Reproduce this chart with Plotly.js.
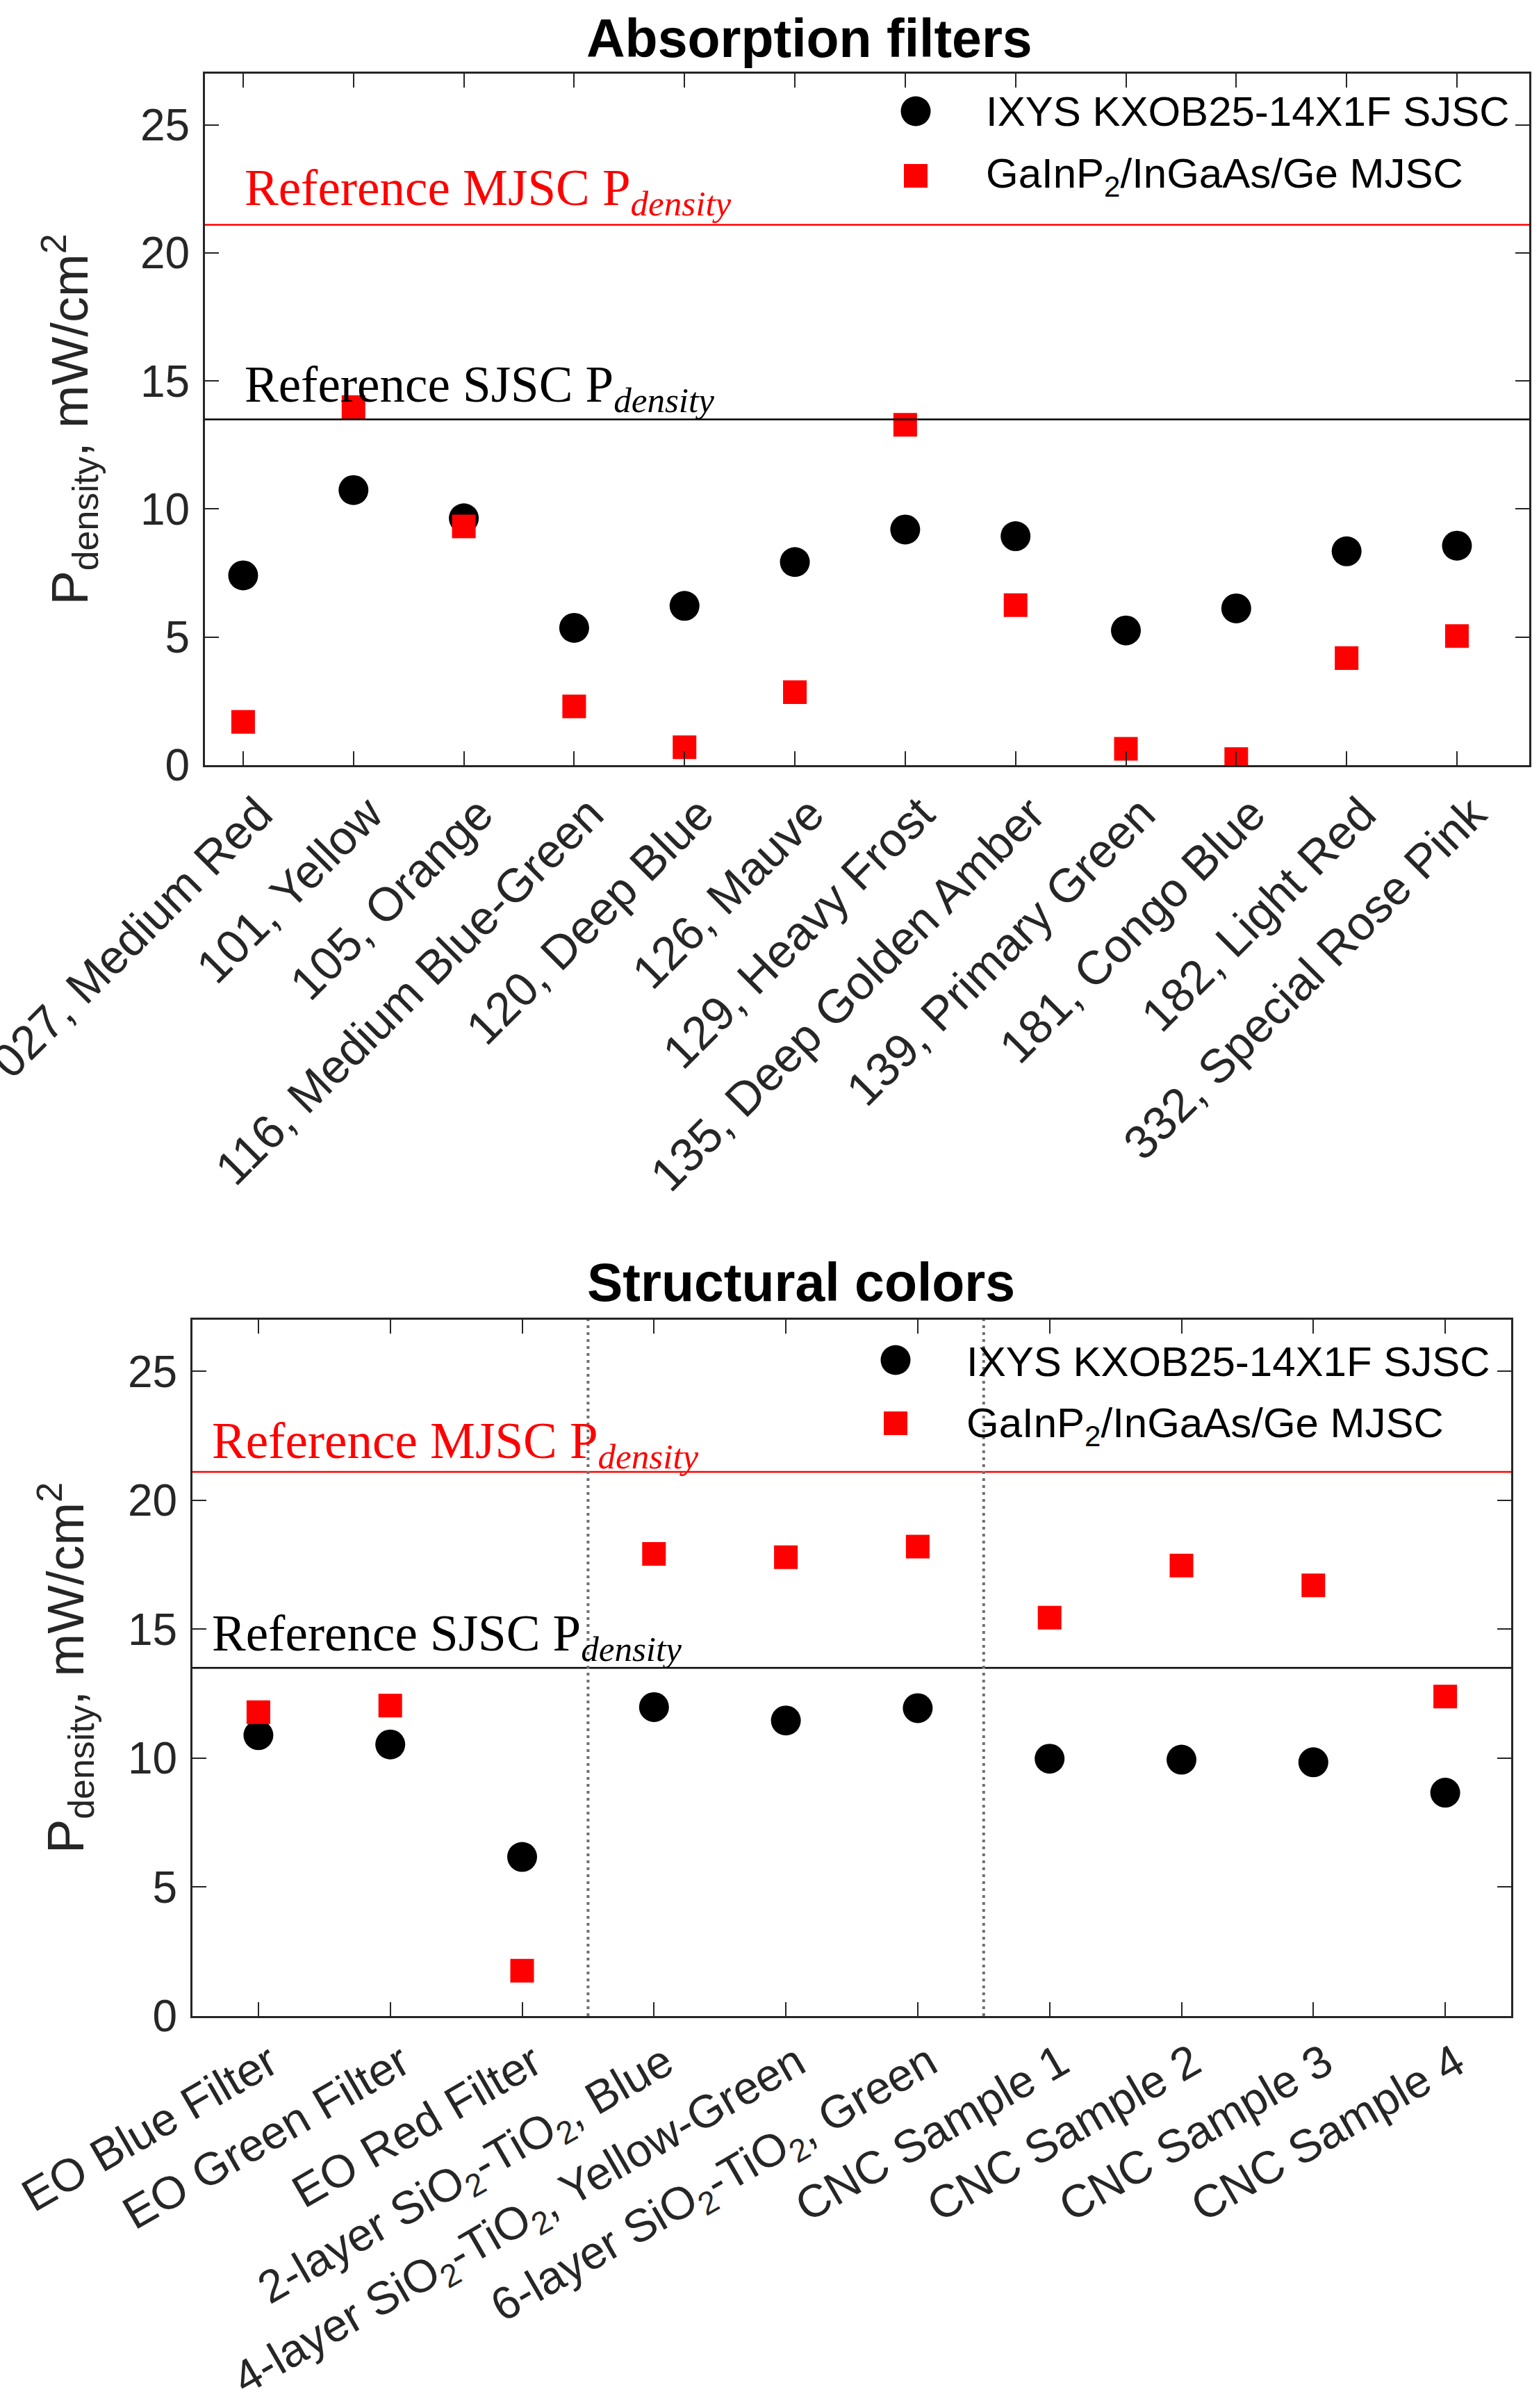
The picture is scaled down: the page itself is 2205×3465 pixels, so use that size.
<!DOCTYPE html>
<html>
<head>
<meta charset="utf-8">
<script src="https://cdn.plot.ly/plotly-3.0.1.min.js"></script>
<style>
  body { margin: 0; background: #fff; }
  #myDiv { width: 2205px; height: 3465px; }
</style>
</head>
<body>
<div id="myDiv"></div>
<script>
// figure size
const W = 2205, H = 3465;

// absorption filters (top panel)
const absLabels = ['027, Medium Red', '101, Yellow', '105, Orange', '116, Medium Blue-Green',
  '120, Deep Blue', '126, Mauve', '129, Heavy Frost', '135, Deep Golden Amber',
  '139, Primary Green', '181, Congo Blue', '182, Light Red', '332, Special Rose Pink'];
const absSJSC = [7.41, 10.74, 9.64, 5.36, 6.22, 7.93, 9.20, 8.94, 5.26, 6.12, 8.35, 8.57];
const absMJSC = [1.69, 13.98, 9.32, 2.29, 0.70, 2.85, 13.29, 6.25, 0.64, 0.24, 4.18, 5.04];

// structural colors (bottom panel)
const strLabels = ['EO Blue Filter', 'EO Green Filter', 'EO Red Filter',
  '2-layer SiO<sub>2</sub>-TiO<sub>2</sub>, Blue',
  '4-layer SiO<sub>2</sub>-TiO<sub>2</sub>, Yellow-Green',
  '6-layer SiO<sub>2</sub>-TiO<sub>2</sub>, Green',
  'CNC Sample 1', 'CNC Sample 2', 'CNC Sample 3', 'CNC Sample 4'];
const strSJSC = [10.89, 10.53, 6.17, 11.98, 11.46, 11.94, 9.98, 9.94, 9.84, 8.66];
const strMJSC = [11.78, 12.04, 1.76, 17.92, 17.79, 18.20, 15.45, 17.47, 16.70, 12.39];
const strDividers = [3.5, 6.5];

// reference power densities
const refMJSC = 21.1;
const refSJSC = 13.5;

const seriesNames = ['IXYS KXOB25-14X1F SJSC', 'GaInP<sub>2</sub>/InGaAs/Ge MJSC'];
const yTicks = [0, 5, 10, 15, 20, 25];

const absX = absLabels.map((_, i) => i + 1);
const strX = strLabels.map((_, i) => i + 1);

// pixel helpers -> paper coords
const fx = px => px / W;
const fy = py => 1 - py / H;

const axCol = '#262626';
const sans = 'Liberation Sans, Arial, sans-serif';
const serif = 'Liberation Serif, Times New Roman, serif';

function pts(x, y, xa, ya, sym, col, size) {
  return {
    x: x, y: y, xaxis: xa, yaxis: ya,
    type: 'scatter', mode: 'markers',
    marker: { symbol: sym, color: col, size: size },
    hoverinfo: 'x+y'
  };
}

var data = [
  pts(absX, absSJSC, 'x', 'y', 'circle', '#000000', 43),
  pts(absX, absMJSC, 'x', 'y', 'square', '#ff0000', 34),
  pts(strX, strSJSC, 'x2', 'y2', 'circle', '#000000', 43),
  pts(strX, strMJSC, 'x2', 'y2', 'square', '#ff0000', 34)
];

function xAxis(dom, anchor, range, vals, text, angle, shift, fsize) {
  return {
    domain: dom, anchor: anchor, range: range,
    tickmode: 'array', tickvals: vals, ticktext: text, tickangle: angle,
    ticklabelshift: shift, ticklabeloverflow: 'allow',
    ticks: 'inside', ticklen: 20, tickwidth: 2, tickcolor: axCol,
    showline: true, mirror: 'ticks', linecolor: axCol, linewidth: 3,
    showgrid: false, zeroline: false, automargin: false,
    tickfont: { family: sans, size: fsize, color: axCol }
  };
}

function yAxis(dom, anchor, standoff) {
  return {
    domain: dom, anchor: anchor, range: [0, 27],
    tickmode: 'array', tickvals: yTicks,
    ticks: 'inside', ticklen: 20, tickwidth: 2, tickcolor: axCol,
    ticklabelstandoff: 6,
    showline: true, mirror: 'ticks', linecolor: axCol, linewidth: 3,
    showgrid: false, zeroline: false, automargin: false,
    tickfont: { family: sans, size: 64, color: axCol },
    title: { text: 'P<sub>density</sub>, mW/cm<sup>2</sup>', standoff: standoff,
             font: { family: sans, size: 74, color: axCol } }
  };
}

// horizontal reference lines + dotted dividers
var shapes = [];
[['x', 'y'], ['x2', 'y2']].forEach(function (ax) {
  shapes.push({ type: 'line', xref: ax[0] + ' domain', yref: ax[1], x0: 0, x1: 1, y0: refMJSC, y1: refMJSC,
                line: { color: '#ff0000', width: 2.5 } });
  shapes.push({ type: 'line', xref: ax[0] + ' domain', yref: ax[1], x0: 0, x1: 1, y0: refSJSC, y1: refSJSC,
                line: { color: '#000000', width: 2.5 } });
});
strDividers.forEach(function (d) {
  shapes.push({ type: 'line', xref: 'x2', yref: 'y2 domain', x0: d, x1: d, y0: 0, y1: 1,
                line: { color: '#707070', width: 4, dash: '4px,6px' } });
});

// hand-made legend keys (plotly caps legend marker size)
function legendKeys(cx, cyCircle, cySquare) {
  shapes.push({ type: 'circle', xref: 'paper', yref: 'paper',
    x0: fx(cx - 21.5), x1: fx(cx + 21.5), y0: fy(cyCircle + 21.5), y1: fy(cyCircle - 21.5),
    fillcolor: '#000000', line: { width: 0 } });
  shapes.push({ type: 'rect', xref: 'paper', yref: 'paper',
    x0: fx(cx - 17), x1: fx(cx + 17), y0: fy(cySquare + 17), y1: fy(cySquare - 17),
    fillcolor: '#ff0000', line: { width: 0 } });
}
legendKeys(1318, 160, 253);
legendKeys(1289, 1957, 2048);

var annotations = [];
function txt(text, x, y, opts) {
  annotations.push(Object.assign({
    text: text, x: x, y: y, xref: 'paper', yref: 'paper',
    showarrow: false, xanchor: 'left', yanchor: 'middle'
  }, opts));
}

// panel titles
txt('<b>Absorption filters</b>', fx(1165), fy(55), { xanchor: 'center', font: { family: sans, size: 77, color: '#000' } });
txt('<b>Structural colors</b>', fx(1153), fy(1845), { xanchor: 'center', font: { family: sans, size: 77, color: '#000' } });

// legend text
txt(seriesNames[0], fx(1417), fy(161), { font: { family: sans, size: 60, color: '#000' } });
txt(seriesNames[1], fx(1417), fy(254), { font: { family: sans, size: 60, color: '#000' } });
txt(seriesNames[0], fx(1389), fy(1959), { font: { family: sans, size: 60, color: '#000' } });
txt(seriesNames[1], fx(1389), fy(2052), { font: { family: sans, size: 60, color: '#000' } });

// reference line labels
function refLabel(xpx, yref, val, label, col, yshift) {
  annotations.push({
    text: label + ' P<sub><i>density</i></sub>', xref: 'paper', yref: yref,
    x: fx(xpx), y: val, xanchor: 'left', yanchor: 'bottom', yshift: yshift, showarrow: false,
    font: { family: serif, size: 73, color: col }
  });
}
refLabel(350, 'y', refMJSC, 'Reference MJSC', '#ff0000', 0);
refLabel(350, 'y', refSJSC, 'Reference SJSC', '#000000', -2);
refLabel(303, 'y2', refMJSC, 'Reference MJSC', '#ff0000', -8);
refLabel(303, 'y2', refSJSC, 'Reference SJSC', '#000000', -3);

var layout = {
  width: W, height: H,
  margin: { l: 0, r: 0, t: 0, b: 0 },
  paper_bgcolor: '#ffffff', plot_bgcolor: '#ffffff',
  showlegend: false,
  xaxis: xAxis([fx(295), fx(2201)], 'y', [0.654, 12.655], absX, absLabels, -45, 22, 68),
  yaxis: yAxis([fy(1101), fy(106)], 'x', 52),
  xaxis2: xAxis([fx(277), fx(2175)], 'y2', [0.5, 10.5], strX, strLabels, -30, 16, 66),
  yaxis2: yAxis([fy(2901), fy(1899)], 'x2', 40),
  shapes: shapes,
  annotations: annotations
};

Plotly.newPlot('myDiv', data, layout, { staticPlot: true });
</script>
</body>
</html>
